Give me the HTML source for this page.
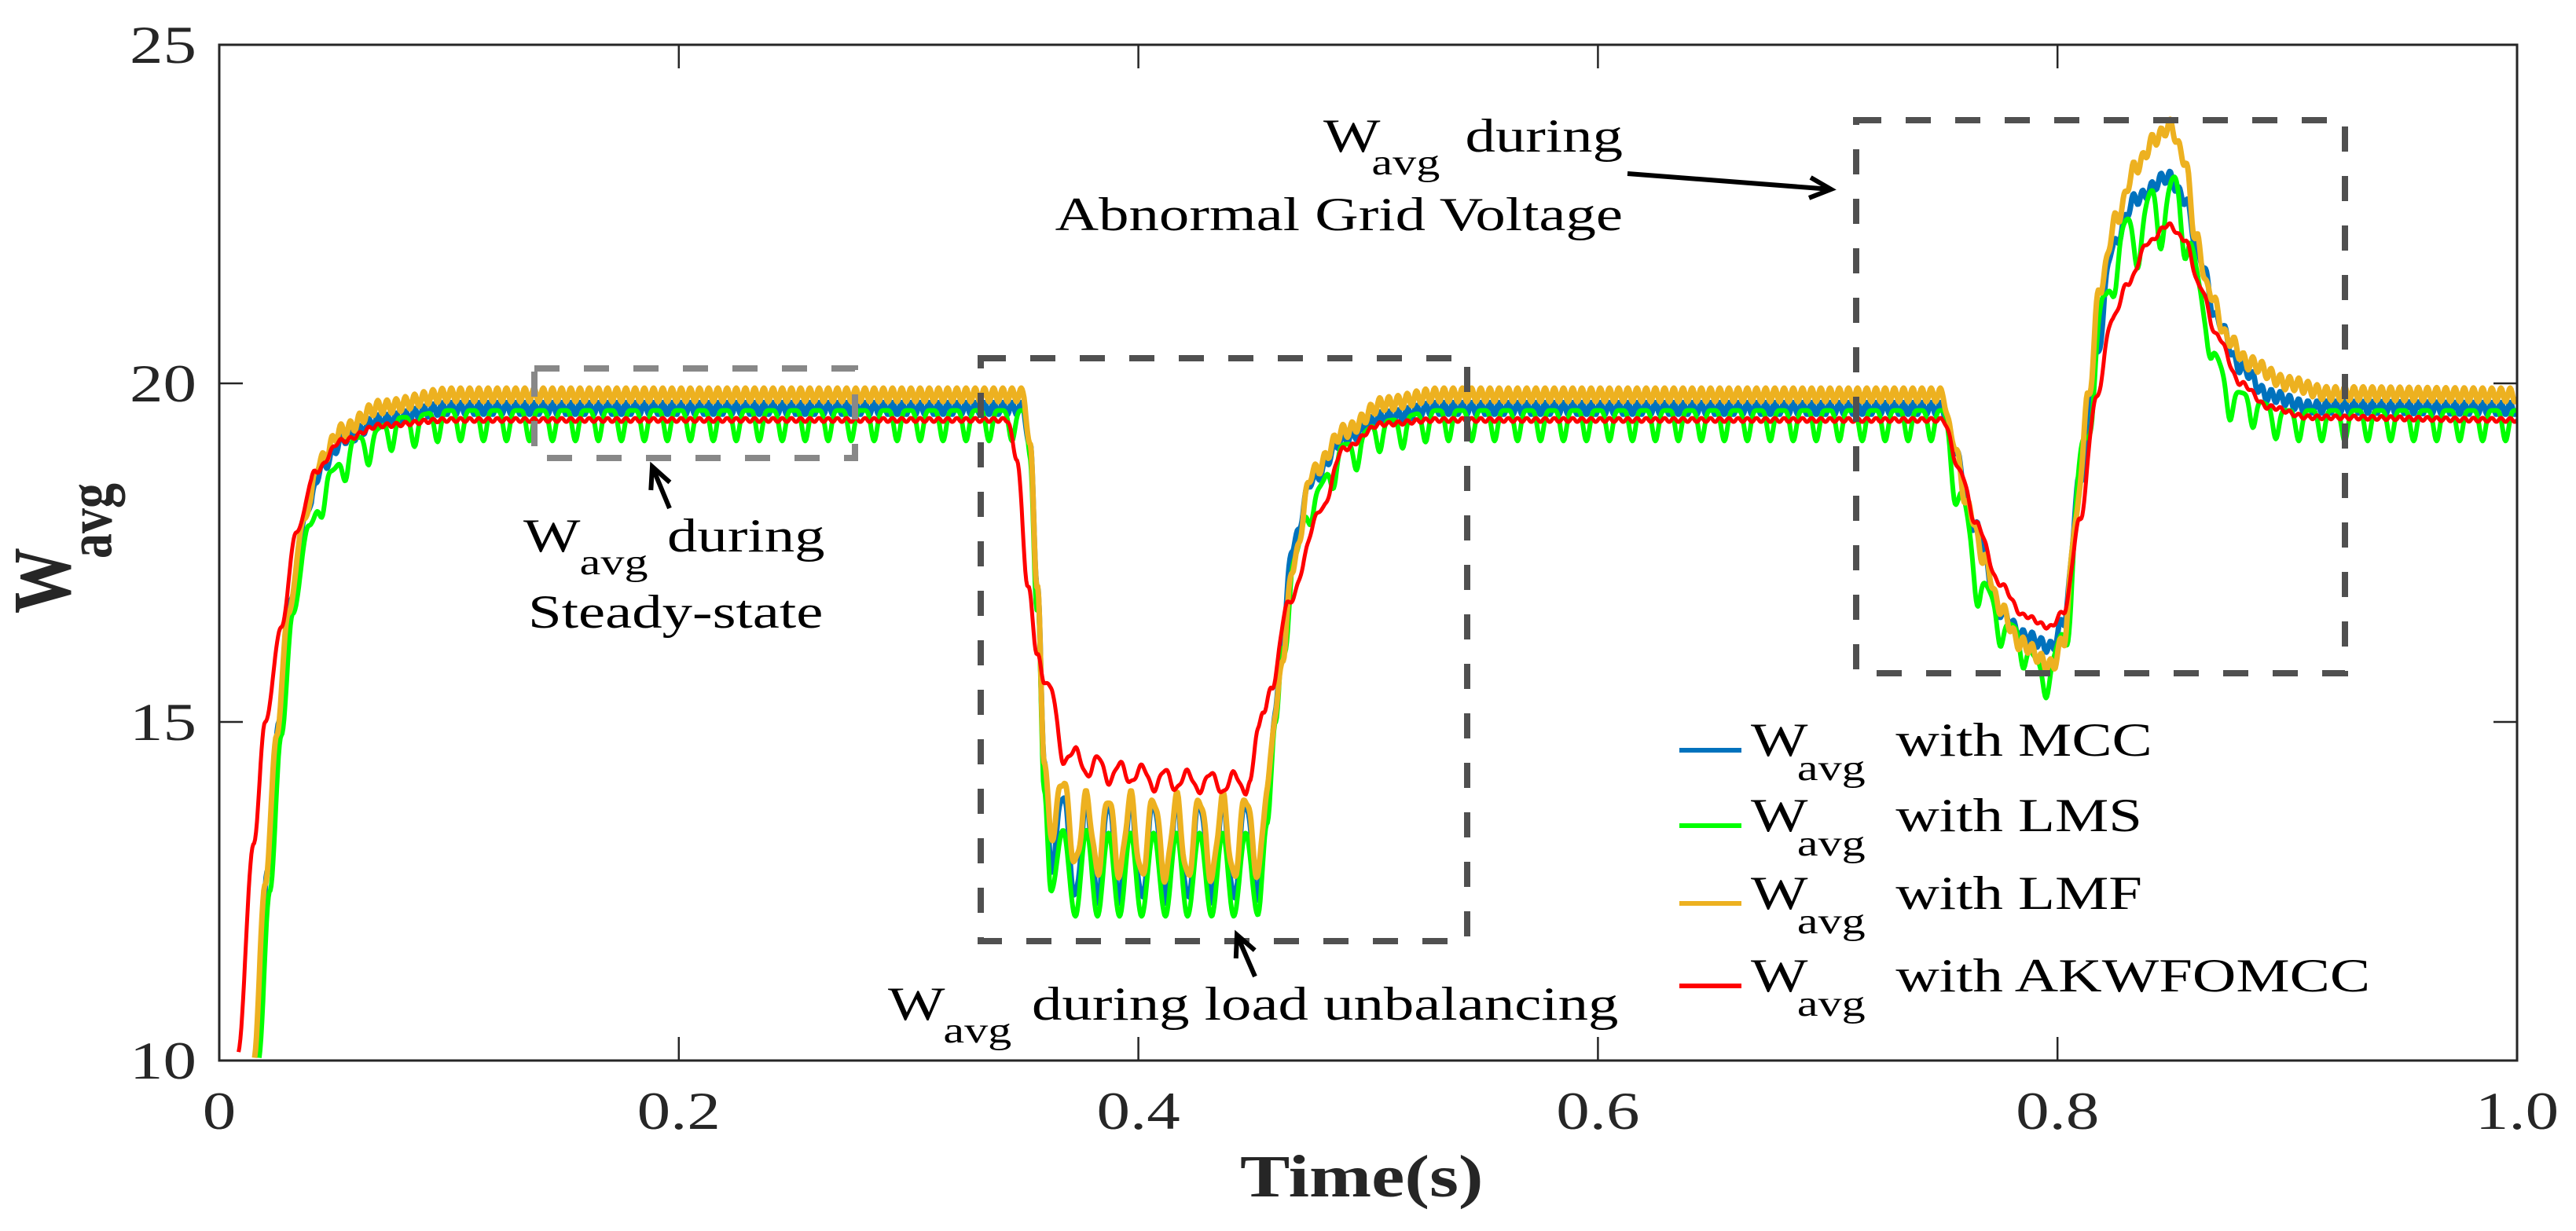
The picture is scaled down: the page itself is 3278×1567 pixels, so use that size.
<!DOCTYPE html>
<html><head><meta charset="utf-8"><style>
html,body{margin:0;padding:0;background:#fff;}
svg{display:block;font-family:"Liberation Serif","Times New Roman",serif;}
</style></head><body>
<svg id="chart" width="3278" height="1567" viewBox="0 0 3278 1567" xmlns="http://www.w3.org/2000/svg">
<rect width="3278" height="1567" fill="#fff"/>
<defs><clipPath id="plotclip"><rect x="279" y="57" width="2924" height="1293"/></clipPath></defs>
<g id="series" clip-path="url(#plotclip)"></g>
<g id="axes"></g>
<g id="annot"></g>
</svg>
<script>
// ---- data (time in s, W_avg values) ----
const xTicks = [0, 0.2, 0.4, 0.6, 0.8, 1.0];
const xTickLabels = ["0", "0.2", "0.4", "0.6", "0.8", "1.0"];
const yTicks = [10, 15, 20, 25];
const yTickLabels = ["10", "15", "20", "25"];
const seriesNames = ["MCC", "LMS", "LMF", "AKWFOMCC"];

const tMCC = [0.016,0.021,0.026,0.031,0.038,0.045,0.055,0.07,0.1,0.35,0.353,0.356,0.359,
 0.362,0.3672,0.3726,0.3774,0.3822,0.387,0.3918,0.3966,0.4014,0.4066,0.4118,0.4166,0.4214,0.4266,0.4319,0.4367,0.4415,0.4467,0.452,
 0.456,0.4597,0.463,0.467,0.476,0.49,0.507,0.53,0.75,0.7542,0.7645,0.7749,0.7854,0.7976,0.8028,0.8098,0.8168,0.8238,0.8342,0.8482,0.8552,0.8622,0.8692,0.8797,0.8919,0.91,1.0];
const vMCC = [10,12.8,15,16.8,18.1,18.8,19.2,19.45,19.63,19.63,19.0,17.0,14.5,
 12.82,13.95,12.4,13.85,12.37,13.85,12.37,13.85,12.37,13.85,12.37,13.85,12.37,13.85,12.37,13.85,12.37,13.85,12.4,
 13.8,15.2,16.3,17.6,18.6,19.2,19.5,19.63,19.63,19.07,17.87,16.63,16.27,16.1,16.51,18.58,20.36,22.02,22.73,23.05,22.73,21.84,20.95,20.24,19.82,19.65,19.63];

const tLMS = [0.017,0.022,0.027,0.032,0.039,0.048,0.06,0.08,0.1,0.35,0.353,0.356,0.359,
 0.362,0.3672,0.3726,0.3774,0.3822,0.387,0.3918,0.3966,0.4014,0.4066,0.4118,0.4166,0.4214,0.4266,0.4319,0.4367,0.4415,0.4467,0.452,
 0.456,0.4597,0.463,0.467,0.476,0.49,0.507,0.53,0.75,0.7577,0.7663,0.7784,0.7958,0.8028,0.8115,0.8203,0.8307,0.8342,0.8412,0.8447,0.8508,0.857,0.864,0.8674,0.8762,0.9,1.0];
const vLMS = [10,12.5,14.8,16.6,17.9,18.7,19.2,19.5,19.6,19.6,19.0,17.0,14.0,
 12.5,13.4,12.13,13.4,12.13,13.36,12.13,13.36,12.13,13.36,12.13,13.36,12.13,13.36,12.13,13.36,12.13,13.36,12.15,
 13.5,15.0,16.2,17.4,18.4,19.1,19.45,19.6,19.6,18.41,17.1,16.45,15.8,16.33,19.18,21.3,22.43,22.13,22.85,22.43,23.05,22.13,21.25,20.47,19.88,19.6,19.6];

const tLMF = [0.015,0.02,0.025,0.03,0.037,0.044,0.053,0.07,0.1,0.35,0.353,0.356,0.359,
 0.362,0.3672,0.3726,0.3774,0.3822,0.387,0.3918,0.3966,0.4014,0.4066,0.4118,0.4166,0.4214,0.4266,0.4319,0.4367,0.4415,0.4467,0.452,
 0.456,0.4597,0.463,0.467,0.476,0.49,0.507,0.53,0.75,0.7542,0.7612,0.7682,0.7749,0.7837,0.7976,0.8028,0.808,0.8133,0.8185,0.8255,0.8342,0.8429,0.849,0.8552,0.8604,0.8657,0.8744,0.8831,0.9006,0.918,1.0];
const vLMF = [10,12.6,14.8,16.6,18.0,18.86,19.3,19.65,19.83,19.83,19.0,17.0,14.5,
 13.3,14.16,12.9,13.9,12.8,13.9,12.76,13.9,12.72,13.88,12.7,13.88,12.7,13.88,12.7,13.88,12.7,13.9,12.75,
 14.0,15.16,16.0,17.3,18.7,19.3,19.7,19.83,19.83,19.18,18.17,17.4,16.69,16.16,15.83,16.22,17.99,19.77,21.42,22.43,23.2,23.62,23.8,23.32,22.13,21.37,20.65,20.3,20.0,19.85,19.83];

const tAKW = [0.008,0.015,0.02,0.027,0.0335,0.042,0.053,0.0705,0.1,0.343,0.347,0.352,0.356,0.359,0.362,
 0.3675,0.3726,0.3778,0.3825,0.3872,0.392,0.3966,0.4017,0.4068,0.4115,0.4162,0.4213,0.4264,0.4315,0.4367,0.4416,0.4465,0.4485,
 0.452,0.4545,0.458,0.465,0.48,0.489,0.506,0.53,0.75,0.7577,0.7645,0.7749,0.7854,0.7967,0.8028,0.8098,0.8168,0.8238,0.8307,0.8395,0.8482,0.8552,0.8622,0.8692,0.8797,0.8919,0.9093,1.0];
const vAKW = [10.1,13.2,15,16.4,17.8,18.7,19.15,19.38,19.46,19.46,18.9,17.0,16.0,15.6,15.5,
 14.4,14.6,14.2,14.5,14.1,14.4,14.1,14.35,14.0,14.3,14.0,14.27,13.97,14.25,13.95,14.25,13.95,14.1,
 14.9,15.16,15.5,16.75,18.15,19.03,19.4,19.46,19.46,18.7,17.93,17.04,16.57,16.4,16.63,17.99,19.77,20.95,21.48,22.08,22.34,22.13,21.42,20.71,20.0,19.65,19.5,19.46];

// ---- axes mapping ----
const X0 = 279, X1 = 3203, Y0 = 1350, Y1 = 57;
function xs(t){ return X0 + (t - 0) / (1 - 0) * (X1 - X0); }
function ys(v){ return Y0 - (v - 10) / (25 - 10) * (Y0 - Y1); }
const NS = "http://www.w3.org/2000/svg";
function mk(tag, attrs, parent){ const e = document.createElementNS(NS, tag); for (const k in attrs) e.setAttribute(k, attrs[k]); parent.appendChild(e); return e; }

function interp(ts, vs, t){
  if (t <= ts[0]) return null;
  if (t >= ts[ts.length-1]) return vs[vs.length-1];
  let i = 0; while (ts[i+1] < t) i++;
  const u = (t - ts[i]) / (ts[i+1] - ts[i]);
  const w = (1 - Math.cos(Math.PI * u)) / 2;
  return vs[i] + (vs[i+1] - vs[i]) * w;
}
// ripple styling (visual texture only)
const styles = [
  {color:"#0072BD", w:7, amp:0.09, per:0.004, kind:"sin"},
  {color:"#00FF00", w:6, amp:0.45, per:0.01, kind:"dip"},
  {color:"#EDB120", w:7, amp:0.1, per:0.004, kind:"sin"},
  {color:"#FF0000", w:5, amp:0.03, per:0.004, kind:"sin"}
];
function ripple(st, t, ts){
  if (t < 0.04) return 0;
  if (t > 0.356 && t < 0.458 && st.kind === "dip") return 0;
  if (st.kind === "sin") return st.amp * Math.sin(2*Math.PI*t/st.per);
  const ph = ((t / st.per) % 1 + 1) % 1;
  return -st.amp * Math.pow(Math.max(0, Math.sin(Math.PI*ph)), 6);
}
const allT = [tMCC, tLMS, tLMF, tAKW], allV = [vMCC, vLMS, vLMF, vAKW];
const sg = document.getElementById("series");
const dataNames = ["series-mcc","series-lms","series-lmf","series-akwfomcc"];
for (let s = 0; s < 4; s++){
  const ts = allT[s], vs = allV[s], st = styles[s];
  let d = "";
  for (let t = ts[0]; t <= 1.0001; t += 0.0004){
    const v = interp(ts, vs, t); if (v === null) continue;
    const vv = v + ripple(st, t, ts);
    d += (d ? "L" : "M") + xs(t).toFixed(1) + "," + ys(vv).toFixed(1);
  }
  const p = mk("path", {d:d, fill:"none", stroke:st.color, "stroke-width":st.w, "stroke-linejoin":"round"}, sg);
  
  
}

// axes
const ax = document.getElementById("axes");
const frame = mk("rect", {x:X0, y:Y1, width:X1-X0, height:Y0-Y1, fill:"none", stroke:"#262626", "stroke-width":3}, ax);


for (let i = 0; i < xTicks.length; i++){
  const x = xs(xTicks[i]);
  mk("line", {x1:x, x2:x, y1:Y0, y2:Y0-30, stroke:"#262626", "stroke-width":2.5}, ax);
  mk("line", {x1:x, x2:x, y1:Y1, y2:Y1+30, stroke:"#262626", "stroke-width":2.5}, ax);
  const g = mk("g", {transform:"translate(" + x + ",1437) scale(1.25,1)"}, ax);
  const tx = mk("text", {x:0, y:0, "text-anchor":"middle", "font-size":68, fill:"#262626"}, g);
  tx.textContent = xTickLabels[i];
  
  
}
for (let i = 0; i < yTicks.length; i++){
  const y = ys(yTicks[i]);
  mk("line", {x1:X0, x2:X0+30, y1:y, y2:y, stroke:"#262626", "stroke-width":2.5}, ax);
  mk("line", {x1:X1, x2:X1-30, y1:y, y2:y, stroke:"#262626", "stroke-width":2.5}, ax);
  const g = mk("g", {transform:"translate(250," + (y+23) + ") scale(1.25,1)"}, ax);
  const tx = mk("text", {x:0, y:0, "text-anchor":"end", "font-size":68, fill:"#262626"}, g);
  tx.textContent = yTickLabels[i];
  
  
}

// legend
const legY = [955, 1051, 1150, 1255];
const leg = mk("g", {}, document.getElementById("annot"));


for (let i = 0; i < 4; i++){
  const y = legY[i];
  const ln = mk("line", {x1:2137, x2:2216, y1:y, y2:y, stroke:styles[i].color, "stroke-width":6}, leg);
  
  
  const g = mk("g", {transform:"translate(2228," + (y+7) + ") scale(1.28,1)"}, leg);
  const t1 = mk("text", {x:0, y:0, "font-size":60, fill:"#000"}, g);
  t1.textContent = "W";
  const t2 = mk("text", {x:46, y:31, "font-size":47, fill:"#000"}, g);
  t2.textContent = "avg";
  const t3 = mk("text", {x:144, y:0, "font-size":60, fill:"#000"}, g);
  t3.textContent = "with " + seriesNames[i];
  
  
}
</script>
<g></g>
<script>
// static annotations
const an = document.getElementById("annot");
function label(x, y, wx, dx, rest, name){
  const g = mk("g", {transform:"translate(" + x + "," + y + ") scale(1.28,1)"}, an);
  
  
  mk("text", {x:0, y:0, "font-size":60, fill:"#000"}, g).textContent = "W";
  mk("text", {x:wx, y:29, "font-size":47, fill:"#000"}, g).textContent = "avg";
  mk("text", {x:dx, y:0, "font-size":60, fill:"#000"}, g).textContent = rest;
}
label(666, 702, 56, 143, "during", "steady-state-label");
{ const g = mk("g", {transform:"translate(672,799) scale(1.28,1)"}, an);
  
  
  mk("text", {x:0, y:0, "font-size":60, fill:"#000"}, g).textContent = "Steady-state"; }
label(1130, 1298, 55, 143, "during load unbalancing", "load-unbalancing-label");
label(1684, 193, 48, 141, "during", "abnormal-voltage-label");
{ const g = mk("g", {transform:"translate(2065,293) scale(1.28,1)"}, an);
  
  
  mk("text", {x:0, y:0, "font-size":60, "text-anchor":"end", fill:"#000"}, g).textContent = "Abnormal Grid Voltage"; }

// boxes
function box(x1, y1, x2, y2, col, name){
  const r = mk("rect", {x:x1, y:y1, width:x2-x1, height:y2-y1, fill:"none", stroke:col, "stroke-width":8, "stroke-dasharray":"32 31"}, an);
  
  
}
box(680, 469, 1088, 583, "#888888", "steady-state-box");
box(1248, 456, 1867, 1198, "#505050", "load-unbalancing-box");
box(2362, 153, 2984, 857, "#505050", "abnormal-voltage-box");

// arrows
function arrow(x1, y1, x2, y2, name){
  const g = mk("g", {}, an);
  
  
  mk("line", {x1:x1, y1:y1, x2:x2, y2:y2, stroke:"#000", "stroke-width":6}, g);
  const a = Math.atan2(y2-y1, x2-x1), L = 30, sp = 0.45;
  const p1 = [x2 - L*Math.cos(a-sp), y2 - L*Math.sin(a-sp)];
  const p2 = [x2 - L*Math.cos(a+sp), y2 - L*Math.sin(a+sp)];
  mk("path", {d:"M"+p1+"L"+x2+","+y2+"L"+p2, fill:"none", stroke:"#000", "stroke-width":6}, g);
}
arrow(852, 647, 830, 594, "steady-state-arrow");
arrow(1597, 1243, 1574, 1190, "load-unbalancing-arrow");
arrow(2071, 221, 2330, 241, "abnormal-voltage-arrow");

// axis titles
{ const g = mk("g", {transform:"translate(1578,1523) scale(1.25,1)"}, an);
  
  
  mk("text", {x:0, y:0, "font-size":76, "font-weight":"bold", fill:"#262626"}, g).textContent = "Time(s)"; }
{ const g = mk("g", {transform:"translate(89,781) rotate(-90) scale(1,1.25)"}, an);
  
  
  mk("text", {x:0, y:0, "font-size":84, "font-weight":"bold", fill:"#262626"}, g).textContent = "W";
  mk("text", {x:70, y:42, "font-size":64, "font-weight":"bold", fill:"#262626"}, g).textContent = "avg"; }
</script>
</body></html>
